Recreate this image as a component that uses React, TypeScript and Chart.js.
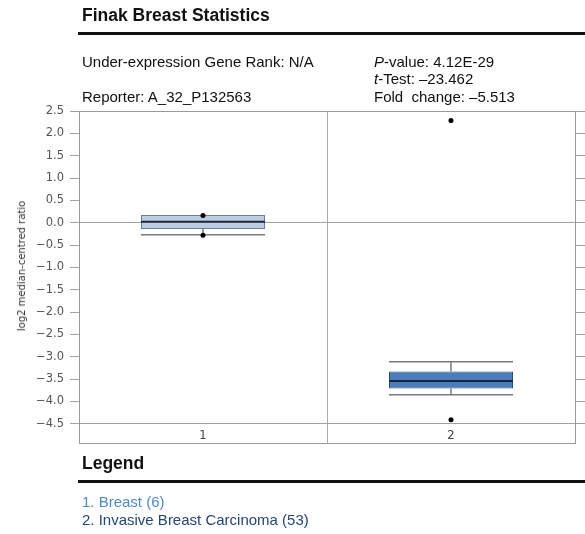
import React, { useEffect, useRef } from 'react';
import { Chart, registerables } from 'chart.js';

Chart.register(...registerables);

const categories = ['1', '2'];
const legendLabels = ['1. Breast (6)', '2. Invasive Breast Carcinoma (53)'];
const boxMin = [-0.28, -4.41];
const whiskerLow = [-0.27, -3.85];
const q1 = [-0.14, -3.71];
const median = [0.02, -3.54];
const q3 = [0.17, -3.33];
const whiskerHigh = [0.17, -3.11];
const boxMax = [0.16, 2.29];
const yTicks = [2.5, 2.0, 1.5, 1.0, 0.5, 0.0, -0.5, -1.0, -1.5, -2.0, -2.5, -3.0, -3.5, -4.0, -4.5];
const yMin = -4.93;
const yMax = 2.5;
const refLines = [0, -4.5];

const boxFill = ['#bccde3', '#4a7dbb'];
const boxBorder = ['#6d7e99', '#2e4c74'];
const medianColor = '#1b2536';
const whiskerColor = '#7a7a7a';
const frameColor = '#9a9a9a';

const fmt = (v: number) => (v < 0 ? '\u2212' : '') + Math.abs(v).toFixed(1);

const boxPlugin = {
  id: 'boxWhiskers',
  afterDatasetDraw(chart: any, args: any) {
    if (args.index !== 0) return;
    const { ctx } = chart;
    const y = chart.scales.y;
    const meta = chart.getDatasetMeta(0);
    ctx.save();
    categories.forEach((_c, i) => {
      const bar = meta.data[i] as any;
      const cx = bar.x;
      const hw = bar.width / 2;
      const yq1 = y.getPixelForValue(q1[i]);
      const yq3 = y.getPixelForValue(q3[i]);
      const ylo = y.getPixelForValue(whiskerLow[i]);
      const yhi = y.getPixelForValue(whiskerHigh[i]);
      ctx.strokeStyle = whiskerColor;
      ctx.lineWidth = 1.5;
      ctx.beginPath();
      if (whiskerHigh[i] !== q3[i]) {
        ctx.moveTo(cx, yq3);
        ctx.lineTo(cx, yhi);
        ctx.moveTo(cx - hw, yhi);
        ctx.lineTo(cx + hw, yhi);
      }
      if (whiskerLow[i] !== q1[i]) {
        ctx.moveTo(cx, yq1);
        ctx.lineTo(cx, ylo);
        ctx.moveTo(cx - hw, ylo);
        ctx.lineTo(cx + hw, ylo);
      }
      ctx.stroke();
      const ym = y.getPixelForValue(median[i]);
      ctx.strokeStyle = medianColor;
      ctx.lineWidth = 2;
      ctx.beginPath();
      ctx.moveTo(cx - hw, ym);
      ctx.lineTo(cx + hw, ym);
      ctx.stroke();
    });
    ctx.restore();
  },
  afterDraw(chart: any) {
    const { ctx, chartArea } = chart;
    const x = chart.scales.x;
    const y = chart.scales.y;
    ctx.save();
    ctx.strokeStyle = frameColor;
    ctx.lineWidth = 1;
    ctx.beginPath();
    ctx.moveTo(chartArea.left, Math.round(chartArea.top) + 0.5);
    ctx.lineTo(chartArea.right, Math.round(chartArea.top) + 0.5);
    ctx.stroke();
    // category labels inside the bottom row of the frame
    const rowTop = y.getPixelForValue(refLines[refLines.length - 1]);
    const rowMid = (rowTop + chartArea.bottom) / 2 + 2.5;
    ctx.fillStyle = '#444';
    ctx.font = '11.5px "DejaVu Sans", sans-serif';
    ctx.textAlign = 'center';
    ctx.textBaseline = 'middle';
    categories.forEach((c, i) => {
      ctx.fillText(c, x.getPixelForValue(i), rowMid);
    });
    ctx.restore();
  },
};

const setTicks = (scale: any) => {
  scale.ticks = yTicks.map((v) => ({ value: v }));
};

const textBase: React.CSSProperties = {
  position: 'absolute',
  fontFamily: '"Liberation Sans", Arial, sans-serif',
  fontSize: 15,
  lineHeight: '18px',
  color: '#111',
  whiteSpace: 'pre',
};

export default function App() {
  const ref = useRef<HTMLCanvasElement | null>(null);

  useEffect(() => {
    document.body.style.margin = '0';
    const canvas = ref.current;
    if (!canvas) return;
    const chart = new Chart(canvas, {
      type: 'bar',
      data: {
        labels: categories,
        datasets: [
          {
            type: 'bar',
            data: categories.map((_c, i) => [q1[i], q3[i]]) as any,
            backgroundColor: boxFill,
            borderColor: boxBorder,
            borderWidth: 1,
            borderSkipped: false,
            barPercentage: 0.5,
            categoryPercentage: 1,
            order: 2,
          } as any,
          {
            type: 'line',
            data: boxMax,
            showLine: false,
            pointRadius: 2.5,
            pointBackgroundColor: '#000',
            pointBorderColor: '#000',
            pointBorderWidth: 0,
            order: 1,
          } as any,
          {
            type: 'line',
            data: boxMin,
            showLine: false,
            pointRadius: 2.5,
            pointBackgroundColor: '#000',
            pointBorderColor: '#000',
            pointBorderWidth: 0,
            order: 1,
          } as any,
        ],
      },
      options: {
        responsive: false,
        animation: false,
        devicePixelRatio: 1,
        layout: { padding: { top: 111, bottom: 91, left: 0, right: 0 } },
        plugins: {
          legend: { display: false },
          tooltip: { enabled: false },
          title: { display: false },
        },
        scales: {
          x: {
            type: 'category',
            offset: true,
            grid: { offset: true, color: '#a8a8a8', drawTicks: false, lineWidth: 1 },
            border: { display: true, color: frameColor },
            ticks: { display: false },
            afterFit: (scale: any) => {
              scale.height = 0;
            },
          },
          y: {
            type: 'linear',
            position: 'left',
            min: yMin,
            max: yMax,
            afterBuildTicks: setTicks,
            grid: {
              color: (c: any) => (c.tick && refLines.includes(c.tick.value) ? '#a0a0a0' : 'rgba(0,0,0,0)'),
              tickColor: '#a0a0a0',
              tickLength: 9,
              lineWidth: 1,
            },
            border: { display: true, color: frameColor },
            ticks: {
              padding: 6,
              color: '#555',
              font: { family: '"DejaVu Sans", sans-serif', size: 11.5 },
              callback: (v: any) => fmt(Number(v)),
            },
            afterFit: (scale: any) => {
              scale.width = 79;
            },
          },
          y2: {
            type: 'linear',
            position: 'right',
            min: yMin,
            max: yMax,
            afterBuildTicks: setTicks,
            grid: {
              drawOnChartArea: false,
              tickColor: '#a0a0a0',
              tickLength: 10,
            },
            border: { display: true, color: frameColor },
            ticks: { display: false },
            afterFit: (scale: any) => {
              scale.width = 10;
            },
          },
        },
      } as any,
      plugins: [boxPlugin],
    });
    return () => chart.destroy();
  }, []);

  return (
    <div style={{ position: 'relative', width: 585, height: 534, background: '#fff', overflow: 'hidden' }}>
      <canvas ref={ref} width={585} height={534} style={{ position: 'absolute', left: 0, top: 0, width: 585, height: 534 }} />
      <div style={{ ...textBase, left: 82, top: 5, fontSize: 17.5, lineHeight: '20px', fontWeight: 'bold' }}>
        Finak Breast Statistics
      </div>
      <div style={{ position: 'absolute', left: 78, top: 32, width: 507, height: 3, background: '#111' }} />
      <div style={{ ...textBase, left: 82, top: 53 }}>Under-expression Gene Rank: N/A</div>
      <div style={{ ...textBase, left: 82, top: 88 }}>Reporter: A_32_P132563</div>
      <div style={{ ...textBase, left: 374, top: 53 }}>
        <i>P</i>-value: 4.12E-29
      </div>
      <div style={{ ...textBase, left: 374, top: 70 }}>
        <i>t</i>-Test: –23.462
      </div>
      <div style={{ ...textBase, left: 374, top: 88 }}>Fold  change: –5.513</div>
      <div
        style={{
          position: 'absolute',
          left: 22,
          top: 266,
          transform: 'translate(-50%, -50%) rotate(-90deg)',
          fontFamily: '"DejaVu Sans", sans-serif',
          fontSize: 10,
          lineHeight: '12px',
          color: '#333',
          whiteSpace: 'nowrap',
        }}
      >
        log2 median-centred ratio
      </div>
      <div style={{ ...textBase, left: 82, top: 453, fontSize: 17.5, lineHeight: '20px', fontWeight: 'bold' }}>
        Legend
      </div>
      <div style={{ position: 'absolute', left: 78, top: 480, width: 507, height: 3, background: '#111' }} />
      <div style={{ ...textBase, left: 82, top: 493, color: '#4a8ad0' }}>{legendLabels[0]}</div>
      <div style={{ ...textBase, left: 82, top: 511, color: '#23467a' }}>{legendLabels[1]}</div>
    </div>
  );
}
